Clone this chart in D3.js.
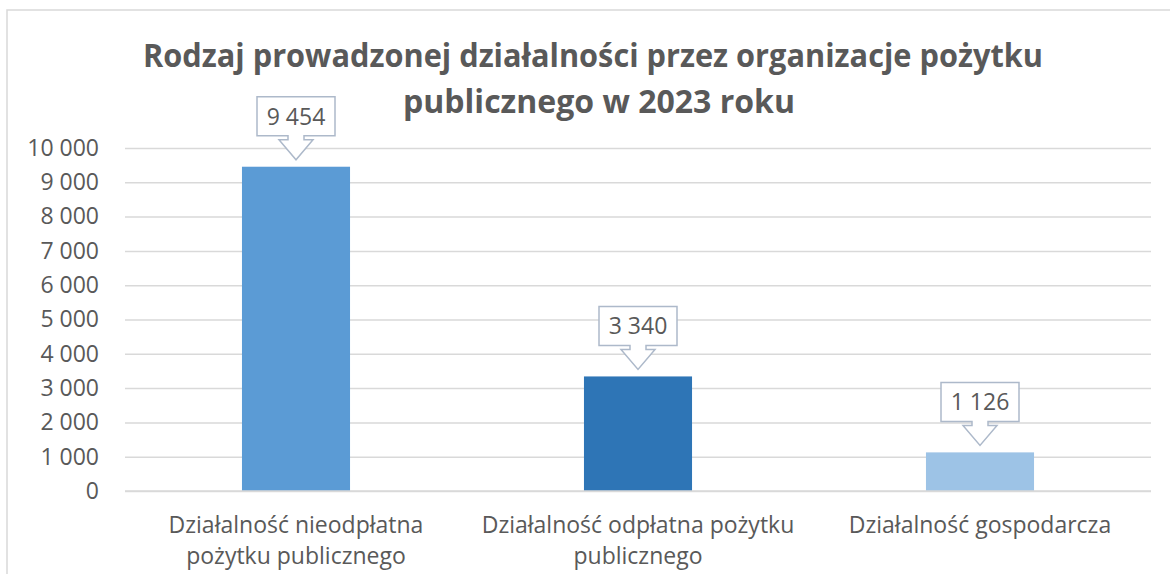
<!DOCTYPE html>
<html>
<head>
<meta charset="utf-8">
<script src="https://cdn.jsdelivr.net/npm/d3@7"></script>
<style>
  body { margin: 0; background: #fff; }
  svg { display: block; font-family: "Open Sans", sans-serif; }
</style>
</head>
<body>
<svg id="chart"></svg>
<script>
const categories = [
    ["Działalność nieodpłatna", "pożytku publicznego"],
    ["Działalność odpłatna pożytku", "publicznego"],
    ["Działalność gospodarcza"]
];
const values = [9454, 3340, 1126];
const barColors = ["#5B9BD5", "#2E75B6", "#9DC3E6"];
const titleLines = ["Rodzaj prowadzonej działalności przez organizacje pożytku", "publicznego w 2023 roku"];
const yTicks = [0, 1000, 2000, 3000, 4000, 5000, 6000, 7000, 8000, 9000, 10000];

const width = 1170;
const height = 574;
const plotLeft = 125;
const plotRight = 1151;
const plotTop = 148;
const plotBottom = 491;
const textColor = "#595959";
const gridColor = "#D9D9D9";

let svg = d3.select("#chart")
    .attr("width", width)
    .attr("height", height);

const plFormat = d3.formatLocale({
    decimal: ",",
    thousands: " ",
    grouping: [3],
    currency: ["", " zł"]
}).format(",d");

// chart border
svg.append("rect")
    .attr("x", 7)
    .attr("y", 10)
    .attr("width", width + 20)
    .attr("height", height + 20)
    .attr("fill", "none")
    .attr("stroke", gridColor)
    .attr("stroke-width", 1.5);

// title
let titleWidths = [900, 392];
let titleYs = [67, 113];
titleLines.forEach((line, i) => {
    svg.append("text")
        .attr("x", 593 + (i == 1 ? 6 : 0))
        .attr("y", titleYs[i])
        .attr("text-anchor", "middle")
        .attr("font-size", 32)
        .attr("font-weight", "bold")
        .attr("fill", textColor)
        .attr("textLength", titleWidths[i])
        .attr("lengthAdjust", "spacingAndGlyphs")
        .text(line);
});

let scaleX = d3.scaleBand()
    .domain(d3.range(values.length))
    .range([plotLeft, plotRight])
    .paddingInner(0.684)
    .paddingOuter(0.342);

let scaleY = d3.scaleLinear()
    .domain([0, 10000])
    .range([plotBottom, plotTop]);

// gridlines + y labels
let axisY = d3.axisLeft(scaleY)
    .tickValues(yTicks)
    .tickFormat(plFormat)
    .tickSize(-(plotRight - plotLeft))
    .tickPadding(26);

let gY = svg.append("g")
    .attr("transform", `translate(${plotLeft}, 0)`)
    .call(axisY);
gY.select(".domain").remove();
gY.selectAll("line")
    .attr("stroke", gridColor)
    .attr("stroke-width", 1.5);
gY.selectAll("text")
    .attr("fill", textColor)
    .attr("font-size", 23)
    .attr("font-family", "Open Sans, sans-serif");

// bars
svg.selectAll(".bar")
    .data(values)
    .enter()
    .append("rect")
    .attr("class", "bar")
    .attr("x", (d, i) => scaleX(i))
    .attr("y", d => scaleY(d))
    .attr("width", scaleX.bandwidth())
    .attr("height", d => scaleY(0) - scaleY(d))
    .attr("fill", (d, i) => barColors[i]);

// redraw zero line over bars
svg.append("line")
    .attr("x1", plotLeft)
    .attr("x2", plotRight)
    .attr("y1", scaleY(0))
    .attr("y2", scaleY(0))
    .attr("stroke", gridColor)
    .attr("stroke-width", 1.5);

// callout labels
function calloutPath(cx, top) {
    const hw = 39, bh = 39, stem = 8, wing = 17;
    const b = top + bh;
    return `M${cx - hw},${top} H${cx + hw} V${b} H${cx + stem} V${b + 4} H${cx + wing} ` +
        `L${cx},${b + 24} L${cx - wing},${b + 4} H${cx - stem} V${b} H${cx - hw} Z`;
}

values.forEach((v, i) => {
    let cx = scaleX(i) + scaleX.bandwidth() / 2;
    let top = scaleY(v) - 31 - 39;
    svg.append("path")
        .attr("d", calloutPath(cx, top))
        .attr("fill", "#fff")
        .attr("stroke", "#ADB9CA")
        .attr("stroke-width", 1.5);
    svg.append("text")
        .attr("x", cx)
        .attr("y", top + 19.5)
        .attr("dy", "0.36em")
        .attr("text-anchor", "middle")
        .attr("font-size", 23)
        .attr("fill", textColor)
        .text(plFormat(v));
});

// category labels
categories.forEach((lines, i) => {
    let cx = scaleX(i) + scaleX.bandwidth() / 2;
    lines.forEach((line, j) => {
        svg.append("text")
            .attr("x", cx)
            .attr("y", 533 + j * 31)
            .attr("text-anchor", "middle")
            .attr("font-size", 23)
            .attr("fill", textColor)
            .text(line);
    });
});
</script>
</body>
</html>
